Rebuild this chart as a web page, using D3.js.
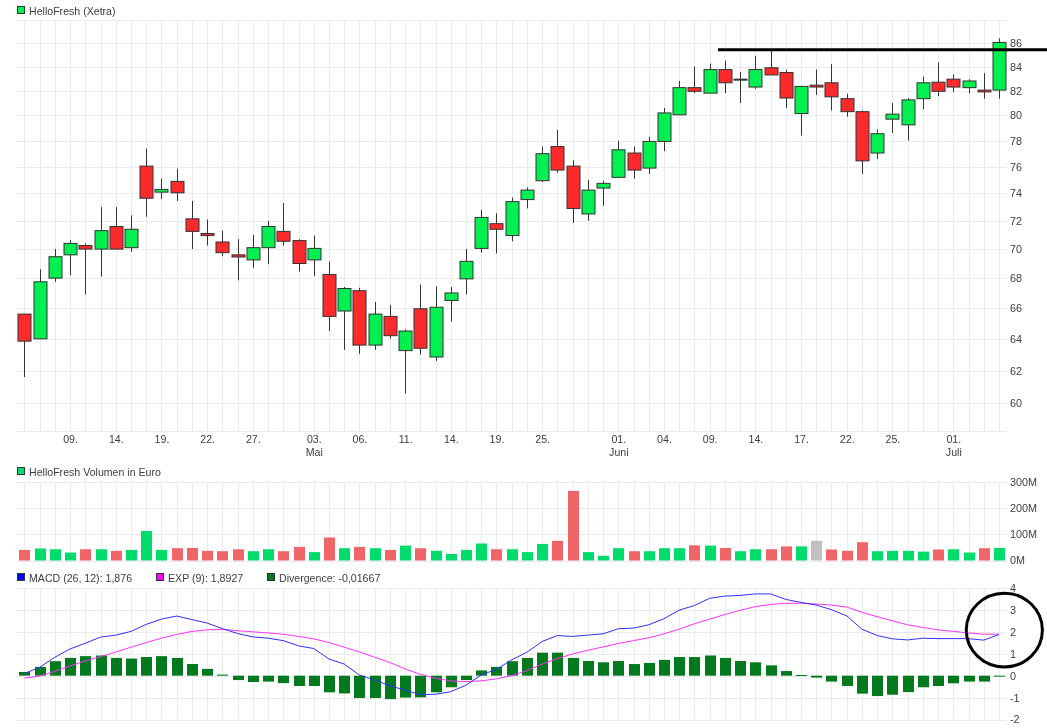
<!DOCTYPE html>
<html><head><meta charset="utf-8">
<script src="https://cdnjs.cloudflare.com/ajax/libs/d3/7.8.5/d3.min.js"></script>
<style>html,body{margin:0;padding:0;background:#fff}svg{display:block;filter:blur(.4px)}text{font-family:"Liberation Sans",Arial,sans-serif}</style>
</head><body><svg id="c" width="1047" height="728"></svg>
<script>
const opens=[65.6,64,68,69.6,70.25,70,71.6,70.1,76.05,74.1,74.9,72.15,71.1,70.5,69.6,69.25,70.1,71.25,70.6,69.25,68.25,65.8,67.15,63.6,65.45,63.25,65.95,62.85,66.5,67.95,70.05,71.8,70.95,73.55,74.95,77.55,76.05,72.5,74.4,75.2,77.05,75.9,77.95,80.05,82.25,81.8,83.75,82.95,82.3,83.9,83.5,80.15,82.45,82.65,81.35,80.3,77.05,79.7,79.25,81.35,82.7,82.95,82.25,82.05,82.05];
const highs=[65.6,68.6,70,70.65,70.4,73,73,72.4,77.4,75.1,75.85,73.45,72.1,71.3,70.7,71,72,73.3,70.7,70.95,69.15,67.4,67.35,66.4,66.2,64.6,67.55,67.45,67.4,70,72.8,72.55,73.7,74.45,77.55,78.85,76.5,75,74.95,78,77.55,78.3,80.6,82.8,84,84.25,84.5,83.55,84.9,85.4,83.75,82.4,83.75,84.2,81.75,80.4,78.9,81,81.4,83.15,84.35,83.35,82.95,83.45,86.4];
const lows=[61.6,64,67.75,68.2,66.9,68.1,70,69.8,72.3,73.6,73.45,70,70.25,69.5,67.85,68.7,68.95,70.25,68.45,68.15,64.5,63.3,63.05,63.3,64,60.6,63,62.6,65.1,66.9,69.75,69.7,70.55,72.9,74.85,75.55,71.85,72,73.1,75.2,75.1,75.45,77.2,80.05,81.8,81.8,81.8,81,82.15,83.3,80.6,78.4,81.65,80.4,79.9,75.45,76.6,78.6,78,80.5,81.55,81.9,81.8,81.35,81.35];
const closes=[63.85,67.75,69.47,70.4,70,71.3,70,71.4,73.65,74.3,74.05,71.25,70.95,69.75,69.45,70.1,71.6,70.55,69,70.05,65.45,67.3,63.6,65.6,64.2,64.5,63.4,66.05,67,69.15,72.25,71.4,73.4,74.25,77,75.75,72.9,74.25,74.75,77.3,75.75,77.95,80.2,82.25,81.95,83.75,82.65,82.95,83.75,83.3,81.4,82.35,82.3,81.5,80.3,76.45,78.55,80.1,81.25,82.65,81.95,82.3,82.8,81.9,86.05];
const volumes=[40.5,46,43,30.5,43,43,37,40.5,113,40.5,47,48,37,35.5,43,35.5,43,35.5,52,32,88,47,52,47,40.5,57,47,37,25,40.5,65,43,43,32,63.5,75,266,32,18,47,35.5,35.5,47,47,58,57,48,35.5,43,43,54,54,75,42,37,70,35.5,37,37,34,42,43,30.5,47,48];
const volColor=["d","u","u","u","d","u","d","u","u","u","d","d","d","d","d","u","u","d","d","u","d","u","d","u","d","u","d","u","u","u","u","d","u","u","u","d","d","u","u","u","d","u","u","u","d","u","d","u","u","d","d","u","n","d","d","d","u","u","u","u","d","u","u","d","u"];
const macd=[0.1,0.38,0.84,1.22,1.48,1.76,1.85,2.02,2.34,2.58,2.72,2.56,2.4,2.15,1.92,1.77,1.71,1.6,1.36,1.24,0.76,0.53,0.03,-0.2,-0.46,-0.66,-0.87,-0.85,-0.73,-0.43,0.03,0.29,0.72,1.07,1.56,1.83,1.79,1.85,1.91,2.14,2.17,2.32,2.6,2.99,3.2,3.53,3.63,3.66,3.73,3.73,3.48,3.34,3.22,3.01,2.73,2.12,1.83,1.68,1.63,1.71,1.69,1.69,1.69,1.62,1.876];
const expLine=[-0.11,-0.02,0.2,0.44,0.67,0.87,1.08,1.3,1.51,1.71,1.88,2.02,2.09,2.11,2.05,2,1.95,1.89,1.79,1.68,1.51,1.3,1.08,0.84,0.6,0.31,0.06,-0.12,-0.24,-0.27,-0.24,-0.14,0,0.23,0.53,0.78,0.99,1.16,1.31,1.47,1.6,1.73,1.91,2.12,2.37,2.58,2.79,2.98,3.15,3.25,3.3,3.31,3.27,3.22,3.13,2.89,2.69,2.5,2.32,2.2,2.09,2.02,1.95,1.89,1.8927];
const divergence=[0.17,0.4,0.66,0.81,0.89,0.92,0.81,0.78,0.85,0.89,0.81,0.53,0.31,0.05,-0.2,-0.29,-0.27,-0.34,-0.47,-0.47,-0.76,-0.81,-1.02,-1.02,-1.07,-1,-0.99,-0.76,-0.53,-0.2,0.24,0.4,0.66,0.81,1.05,1.05,0.81,0.67,0.61,0.67,0.53,0.58,0.72,0.85,0.85,0.92,0.81,0.67,0.61,0.47,0.21,0.03,-0.09,-0.27,-0.47,-0.82,-0.93,-0.87,-0.75,-0.53,-0.47,-0.35,-0.27,-0.27,-0.03];
const priceTicks=[60,62,64,66,68,70,72,74,76,78,80,82,84,86];
const volTicks=[0,100,200,300];
const macdTicks=[-2,-1,0,1,2,3,4];
const dayIdx=[3,6,9,12,15,19,22,25,28,31,34,39,42,45,48,51,54,57,61];
const dayLabels=["09.","14.","19.","22.","27.","03.","06.","11.","14.","19.","25.","01.","04.","09.","14.","17.","22.","25.","01."];
const monthIdx=[19,39,61];
const monthLabels=["Mai","Juni","Juli"];
const resistance=[45.55,85.42];
const circleCentre=[64.35,2.08];

const GRID="#ebebeb",TXT="#3c3c3c",GREEN="#00f052",RED="#fd2a2c",L=16,R=1007;
const svg=d3.select("#c");
const x=d3.scaleLinear().domain([0,64]).range([24.4,999]);
const yP=d3.scaleLog().domain([88,58.37]).range([20,431]);
const yV=d3.scaleLinear().domain([0,300]).range([560.5,482]);
const yM=d3.scaleLinear().domain([-2,4]).range([719.5,588]);
const idx=d3.range(64+1);

function panel(scale,ticks,fmt,top,bottom){
  const g=svg.append("g");
  g.selectAll(".v").data(idx).join("line").attr("x1",d=>Math.round(x(d))+.5).attr("x2",d=>Math.round(x(d))+.5)
    .attr("y1",top).attr("y2",bottom).attr("stroke",GRID);
  const ys=ticks.map(t=>scale(t)).concat([top,bottom]);
  g.selectAll(".h").data(ys).join("line").attr("x1",L).attr("x2",R).attr("y1",d=>Math.round(d)+.5).attr("y2",d=>Math.round(d)+.5).attr("stroke",GRID);
  const ax=d3.axisRight(scale).tickValues(ticks).tickFormat(fmt).tickSize(0).tickPadding(0);
  const a=svg.append("g").attr("transform",`translate(1010,0)`).call(ax);
  a.select(".domain").remove();
  a.selectAll("text").attr("font-size",10.8).attr("fill",TXT).style("font-family",'"Liberation Sans"');
}
panel(yP,priceTicks,d=>d,20,431);
panel(yV,volTicks,d=>d+"M",482,560.5);
panel(yM,macdTicks,d=>d,588,719.5);

// x axis
const axD=d3.axisBottom(x).tickValues(dayIdx).tickFormat((d,i)=>dayLabels[i]).tickSize(0).tickPadding(4);
const aD=svg.append("g").attr("transform","translate(0,431)").call(axD);
aD.select(".domain").remove();
aD.selectAll("text").attr("font-size",10.6).attr("fill",TXT);
const axM=d3.axisBottom(x).tickValues(monthIdx).tickFormat((d,i)=>monthLabels[i]).tickSize(0).tickPadding(17);
const aM=svg.append("g").attr("transform","translate(0,431)").call(axM);
aM.select(".domain").remove();
aM.selectAll("text").attr("font-size",10.6).attr("fill",TXT);

// candles
const W=13;
const cg=svg.append("g");
cg.selectAll("line").data(idx).join("line").attr("x1",i=>Math.round(x(i))+.5).attr("x2",i=>Math.round(x(i))+.5)
  .attr("y1",i=>yP(highs[i])).attr("y2",i=>yP(lows[i])).attr("stroke","#333").attr("stroke-width",1);
cg.selectAll("rect").data(idx).join("rect")
  .attr("x",i=>Math.round(x(i))+.5-W/2).attr("width",W)
  .attr("y",i=>yP(Math.max(opens[i],closes[i])))
  .attr("height",i=>Math.max(1,Math.abs(yP(opens[i])-yP(closes[i]))))
  .attr("fill",i=>closes[i]>=opens[i]?GREEN:RED).attr("stroke","#333").attr("stroke-width",1);

// volume
const VC={u:"#00dc6a",d:"#f06668",n:"#c0c0c0"};
svg.append("g").selectAll("rect").data(idx).join("rect")
  .attr("x",i=>Math.round(x(i))+.5-5.5).attr("width",11)
  .attr("y",i=>yV(volumes[i])).attr("height",i=>yV(0)-yV(volumes[i]))
  .attr("fill",i=>VC[volColor[i]]);

// divergence
svg.append("g").selectAll("rect").data(idx).join("rect")
  .attr("x",i=>Math.round(x(i))+.5-5.5).attr("width",11)
  .attr("y",i=>Math.min(yM(0),yM(divergence[i]))).attr("height",i=>Math.max(1,Math.abs(yM(divergence[i])-yM(0))))
  .attr("fill","#007a1c");

const ln=a=>d3.line().x((d,i)=>x(i)).y(d=>yM(d))(a);
svg.append("path").attr("d",ln(expLine)).attr("fill","none").attr("stroke","#ff30ff").attr("stroke-width",1);
svg.append("path").attr("d",ln(macd)).attr("fill","none").attr("stroke","#3030ff").attr("stroke-width",1);

// legends
function legend(px,py,color,label){
  svg.append("rect").attr("x",px+.5).attr("y",py-4.5).attr("width",7).attr("height",7).attr("fill",color).attr("stroke","#333");
  svg.append("text").attr("x",px+12).attr("y",py+3.5).attr("font-size",10.6).attr("fill",TXT).text(label);
}
legend(17,11,GREEN,"HelloFresh (Xetra)");
legend(17,472,"#00dc6a","HelloFresh Volumen in Euro");
legend(17,578,"#0000ff","MACD (26, 12): 1,876");
legend(156,578,"#ff00ff","EXP (9): 1,8927");
legend(267,578,"#007a1c","Divergence: -0,01667");

// hand-drawn annotations
svg.append("line").attr("x1",x(resistance[0])).attr("x2",1047).attr("y1",yP(resistance[1])).attr("y2",yP(resistance[1])).attr("stroke","#000").attr("stroke-width",3);
svg.append("ellipse").attr("cx",x(circleCentre[0])).attr("cy",yM(circleCentre[1])).attr("rx",x(2.5)-x(0)).attr("ry",yM(0)-yM(1.68)).attr("fill","none").attr("stroke","#000").attr("stroke-width",3);
</script></body></html>
